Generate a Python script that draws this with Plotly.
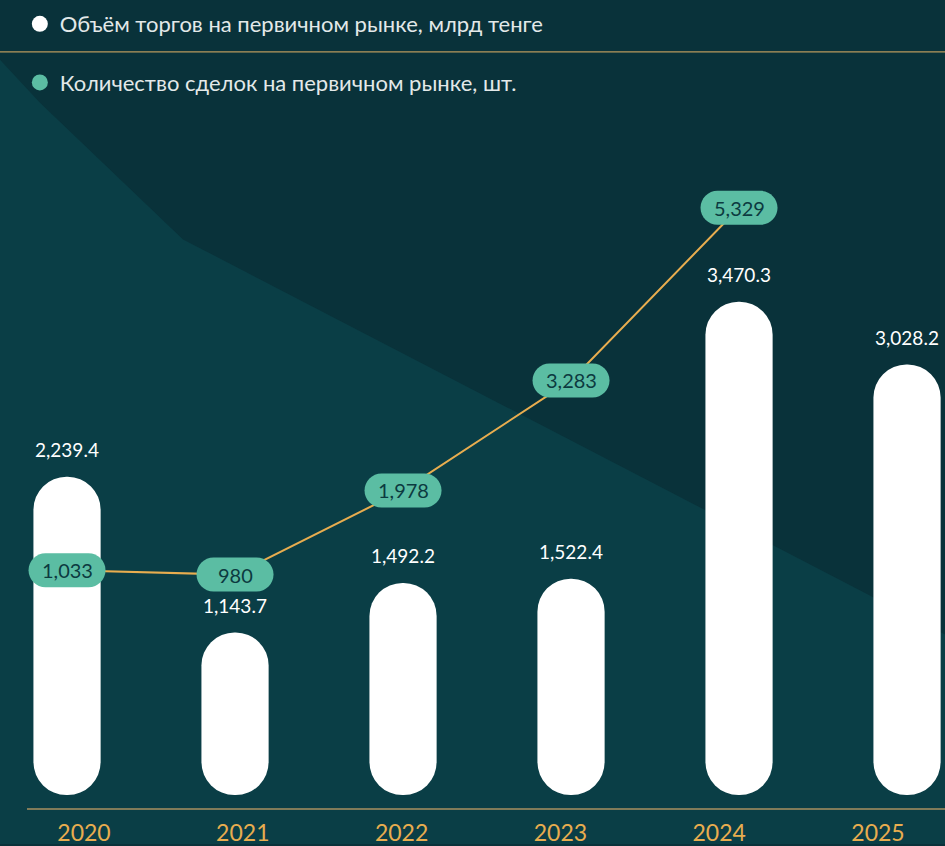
import plotly.graph_objects as go

# ---- data ----
years = ["2020", "2021", "2022", "2023", "2024", "2025"]
volume = [2239.4, 1143.7, 1492.2, 1522.4, 3470.3, 3028.2]          # bln tenge
deal_years = ["2020", "2021", "2022", "2023", "2024"]
deals = [1033, 980, 1978, 3283, 5329]                               # count
legend_names = ["Объём торгов на первичном рынке, млрд тенге",
                "Количество сделок на первичном рынке, шт."]

# ---- style ----
FONT = "Lato"
BG = "#09323a"
WHITE = "#ffffff"
TEAL = "#5bbda3"
GOLD = "#e8ad4f"
DARK_TXT = "#0c3a40"
W, H = 945, 846

fig = go.Figure()

# pill-shaped bars (floating bar with explicit base -> both ends rounded)
fig.add_trace(go.Bar(x=years, y=volume, base=[0] * len(volume),
                     marker=dict(color=WHITE, line=dict(width=0), cornerradius="50%"),
                     width=0.4, showlegend=False, hoverinfo="skip"))

# deals line on secondary axis
fig.add_trace(go.Scatter(x=deal_years, y=deals, yaxis="y2", mode="lines",
                         line=dict(color=GOLD, width=2), showlegend=False, hoverinfo="skip"))

# invisible trace to carry the year tick labels on an overlay axis
fig.add_trace(go.Scatter(x=years, y=[None] * len(years), xaxis="x2", mode="markers",
                         showlegend=False, hoverinfo="skip"))

# legend entries
fig.add_trace(go.Scatter(x=[None], y=[None], mode="markers", name=legend_names[0],
                         marker=dict(size=20, color=WHITE), legendgroup="a"))
fig.add_trace(go.Scatter(x=[None], y=[None], mode="markers", name=legend_names[1],
                         marker=dict(size=20, color=TEAL), legendgroup="b"))

# pill badge path (pixels relative to anchor)
bw, bh = 77, 34
r = bh / 2
a = bw / 2 - r
k = 0.5523 * r
pill = (f"M {-a},{-r} L {a},{-r} C {a+k},{-r} {a+r},{-k} {a+r},0 "
        f"C {a+r},{k} {a+k},{r} {a},{r} L {-a},{r} "
        f"C {-a-k},{r} {-a-r},{k} {-a-r},0 C {-a-r},{-k} {-a-k},{-r} {-a},{-r} Z")

shapes = []
# lighter diagonal region of background
def px(xp, yp):
    return xp / W, (811 - yp) / 811
poly = [(0, 60), (40, 103), (183, 240), (945, 636), (945, 846), (0, 846)]
pts = [px(x, y) for x, y in poly]
path_bg = "M " + " L ".join(f"{x:.4f},{y:.4f}" for x, y in pts) + " Z"
shapes.append(dict(type="path", path=path_bg, xref="paper", yref="paper",
                   fillcolor="rgba(12,74,82,0.5)", line=dict(width=0), layer="below"))
# separator line between legend items
shapes.append(dict(type="line", xref="paper", yref="paper", x0=0, x1=1,
                   y0=(811 - 52) / 811, y1=(811 - 52) / 811,
                   line=dict(color="#b8995c", width=1.2), layer="below"))
# baseline
shapes.append(dict(type="line", xref="paper", yref="paper", x0=27 / W, x1=1, y0=0, y1=0,
                   line=dict(color="#a89060", width=1.5), layer="above"))

for yr, d in zip(deal_years, deals):
    shapes.append(dict(type="path", xref="x", yref="y2", xsizemode="pixel", ysizemode="pixel",
                       xanchor=years.index(yr), yanchor=d, path=pill, fillcolor=TEAL,
                       line=dict(width=0), layer="above"))

annotations = []
for yr, d in zip(deal_years, deals):
    annotations.append(dict(x=years.index(yr), y=d, xref="x", yref="y2", text=f"{d:,}",
                            showarrow=False,
                            font=dict(family=FONT, size=20, color=DARK_TXT)))
for i, v in enumerate(volume):
    annotations.append(dict(x=i, y=v, xref="x", yref="y", text=f"{v:,.1f}", showarrow=False,
                            yshift=27, font=dict(family=FONT, size=19, color=WHITE)))

fig.update_layout(
    width=W, height=H,
    paper_bgcolor=BG, plot_bgcolor="rgba(0,0,0,0)",
    margin=dict(l=0, r=0, t=0, b=35),
    barmode="overlay",
    showlegend=True,
    hovermode=False,
    legend=dict(x=0.021, y=0.9963, xanchor="left", yanchor="top", orientation="v",
                bgcolor="rgba(0,0,0,0)", tracegroupgap=27,
                font=dict(family=FONT, size=22, color="#e3e9e9")),
    xaxis=dict(type="category", range=[-0.399, 5.226], showticklabels=False, showgrid=False,
               zeroline=False, showline=False, fixedrange=True),
    xaxis2=dict(type="category", overlaying="x", anchor="y", side="bottom",
                range=[-0.529, 5.422], showgrid=False, zeroline=False, showline=False,
                ticks="", ticklabelstandoff=8, tickfont=dict(family=FONT, size=23, color=GOLD)),
    yaxis=dict(range=[-98, 5593], visible=False, showgrid=False, zeroline=False),
    yaxis2=dict(range=[-1799, 7793], overlaying="y", visible=False, showgrid=False, zeroline=False),
    shapes=shapes,
    annotations=annotations,
    font=dict(family=FONT),
)

fig.write_html("out.html", config={"displayModeBar": False, "staticPlot": True},
               post_script="document.body.style.margin='0';document.body.style.overflow='hidden';")
